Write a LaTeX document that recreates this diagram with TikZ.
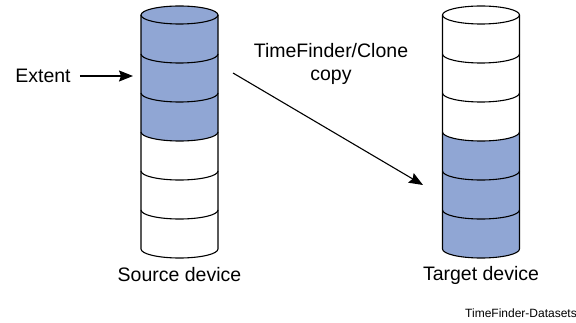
\documentclass[tikz,border=0pt]{standalone}
\usepackage{fontspec}
\setmainfont{Liberation Sans}
\usetikzlibrary{positioning, arrows.meta}

\definecolor{extentblue}{RGB}{144,166,212}

\begin{document}
\begin{tikzpicture}[x=1pt, y=1pt,
    label/.style={font=\fontsize{19.5}{23}\selectfont, inner sep=0pt},
    disk/.style={line width=1.1pt, line join=round},
    copyarrow/.style={line width=1.1pt, -{Stealth[length=14pt, width=11pt, inset=2pt]}}]
                \useasboundingbox (0,0) rectangle (576,-323);

                %Disks
                \foreach \cx/\lo/\hi/\topfill in {179.5/0/2/extentblue, 481/3/5/white} {
                    \fill[white] (\cx-38.5,-15) -- (\cx-38.5,-249) arc (180:360:38.5 and 9) -- (\cx+38.5,-15) -- cycle;
                    \foreach \i in {\lo,...,\hi}
                        \fill[extentblue] (\cx-38.5,-15-39*\i) arc (180:360:38.5 and 9) -- (\cx+38.5,-54-39*\i) arc (0:-180:38.5 and 9) -- cycle;
                    \filldraw[disk, fill=\topfill] (\cx,-15) ellipse (38.5 and 9);
                    \draw[disk] (\cx-38.5,-15) -- (\cx-38.5,-249) arc (180:360:38.5 and 9) -- (\cx+38.5,-15);
                    \foreach \i in {1,...,5}
                        \draw[disk] (\cx-38.5,-15-39*\i) arc (180:360:38.5 and 9);
                }

                %Nodes
                \node[label] at (43,-76) (extent) {Extent};
                \coordinate (srcside) at (133,-76);
                \node[label, align=center] at (331,-64) (clone) {TimeFinder/Clone\\copy};
                \coordinate (copyfrom) at (233,-73);
                \coordinate (copyto) at (423,-185);
                \node[label] at (179.5,-275) (source) {Source device};
                \node[label] at (481,-275) (target) {Target device};
                \node[font=\fontsize{12}{14}\selectfont, inner sep=0pt, anchor=east] at (577,-313) (tag) {TimeFinder-Datasets};

                %Lines
                \draw[copyarrow, shorten <=9pt] (extent.east) -- (srcside);
                \draw[copyarrow] (copyfrom) -- (copyto);
            \end{tikzpicture}
\end{document}
